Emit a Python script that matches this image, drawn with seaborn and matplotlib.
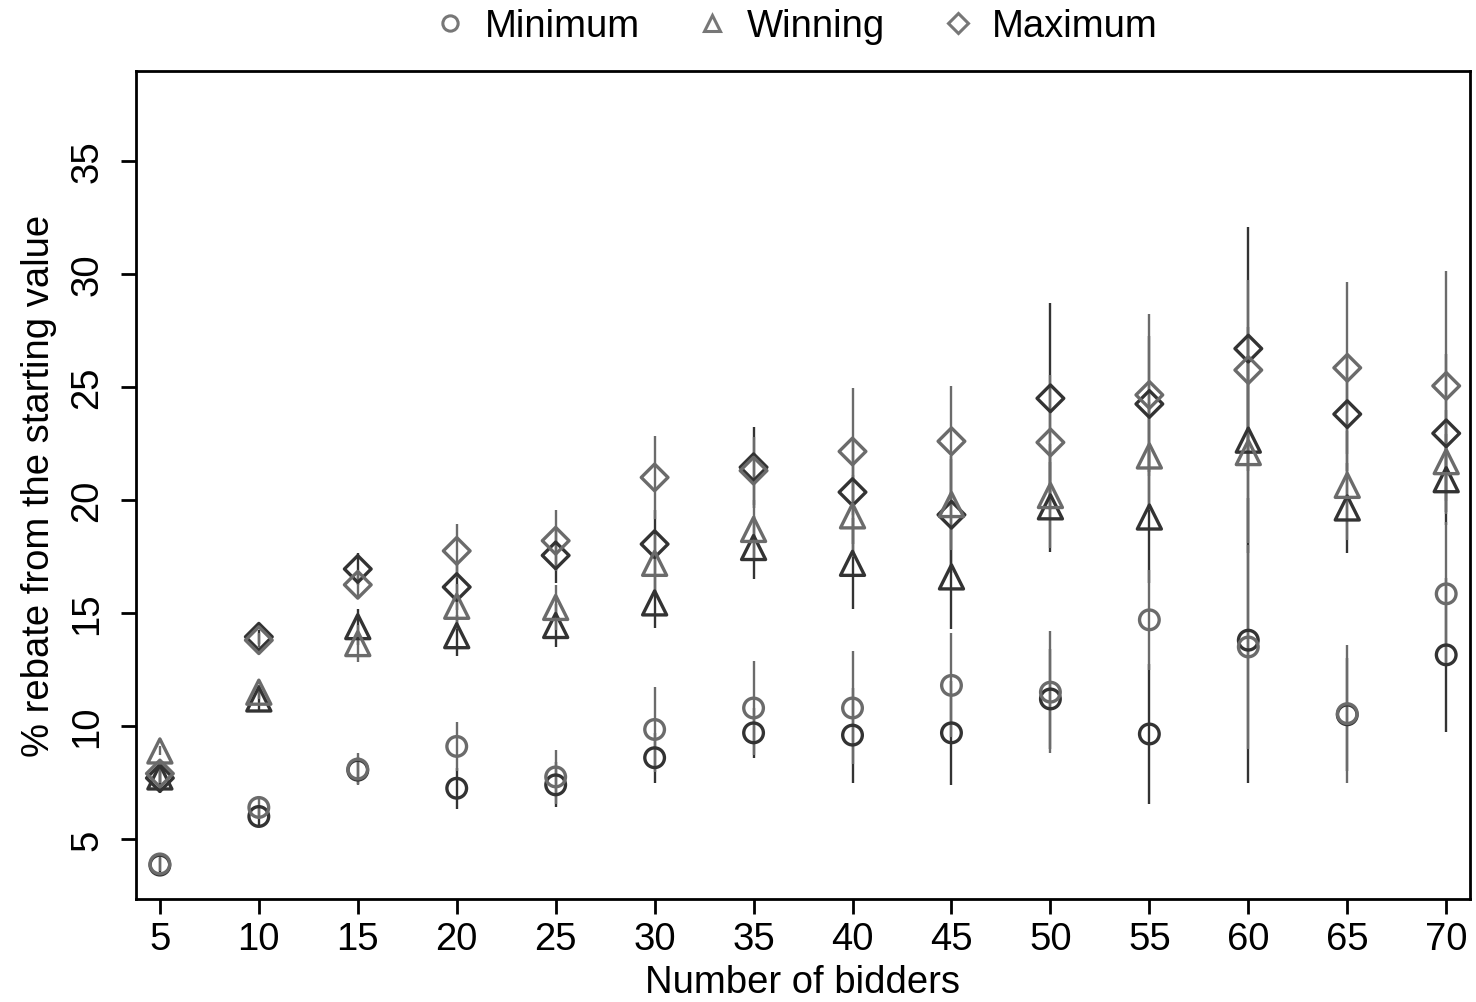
import matplotlib
matplotlib.use('Agg')
import matplotlib.pyplot as plt
from matplotlib.lines import Line2D
import seaborn as sns

# Values
bidders = [5, 10, 15, 20, 25, 30, 35, 40, 45, 50, 55, 60, 65, 70]

dark_min = [3.85, 6.0, 8.05, 7.25, 7.4, 8.6, 9.7, 9.6, 9.7, 11.2, 9.65, 13.8, 10.5, 13.15]
dark_win = [7.75, 11.2, 14.4, 14.0, 14.45, 15.45, 17.9, 17.2, 16.6, 19.7, 19.25, 22.65, 19.65, 20.9]
dark_max = [7.7, 13.95, 16.95, 16.15, 17.55, 18.05, 21.45, 20.35, 19.35, 24.5, 24.25, 26.7, 23.8, 22.95]

light_min = [3.9, 6.4, 8.1, 9.1, 7.75, 9.85, 10.8, 10.8, 11.8, 11.5, 14.7, 13.5, 10.55, 15.85]
light_win = [8.9, 11.5, 13.65, 15.3, 15.25, 17.2, 18.7, 19.3, 19.8, 20.2, 21.95, 22.1, 20.65, 21.7]
light_max = [7.9, 13.8, 16.25, 17.75, 18.2, 21.0, 21.3, 22.15, 22.6, 22.55, 24.65, 25.75, 25.85, 25.05]

# half-widths of the vertical error bars
dark_min_err = [0.3, 0.45, 0.6, 0.9, 1.0, 1.1, 1.1, 2.1, 2.3, 2.2, 3.1, 6.3, 2.5, 3.4]
dark_win_err = [0.7, 0.5, 0.8, 0.9, 0.95, 1.1, 1.4, 2.0, 2.3, 2.0, 2.9, 5.0, 2.0, 2.0]
dark_max_err = [0.4, 0.3, 0.7, 1.0, 1.2, 1.5, 1.8, 2.3, 2.6, 4.2, 3.0, 5.4, 2.5, 3.5]
light_min_err = [0.3, 0.5, 0.7, 1.1, 1.2, 1.9, 2.1, 2.5, 2.3, 2.7, 2.2, 4.5, 3.05, 3.2]
light_win_err = [0.2, 0.3, 0.8, 1.0, 1.0, 1.3, 1.3, 1.8, 2.0, 2.3, 2.4, 4.0, 2.4, 2.3]
light_max_err = [0.4, 0.3, 0.5, 1.2, 1.35, 1.85, 1.5, 2.8, 2.45, 3.0, 3.6, 4.0, 3.8, 5.1]

stat_names = ['Minimum', 'Winning', 'Maximum']
dark_color = '#333333'
light_color = '#6b6b6b'

sns.set_theme(style='ticks')
plt.rcParams['font.family'] = ['Liberation Sans', 'DejaVu Sans']
plt.rcParams['text.color'] = 'black'
plt.rcParams['axes.labelcolor'] = 'black'
plt.rcParams['xtick.color'] = 'black'
plt.rcParams['ytick.color'] = 'black'

fig = plt.figure(figsize=(14.76, 10.03), dpi=100)
ax = fig.add_axes([0.0921, 0.1027, 0.9038, 0.8255])

markers = {'Minimum': 'o', 'Winning': '^', 'Maximum': 'D'}
sizes = {'Minimum': 200, 'Winning': 300, 'Maximum': 185}

groups = [
    (dark_color, [dark_min, dark_win, dark_max], [dark_min_err, dark_win_err, dark_max_err]),
    (light_color, [light_min, light_win, light_max], [light_min_err, light_win_err, light_max_err]),
]

for color, series, errs in groups:
    for name, vals, err in zip(stat_names, series, errs):
        lo = [v - e for v, e in zip(vals, err)]
        hi = [v + e for v, e in zip(vals, err)]
        ax.vlines(bidders, lo, hi, colors=color, linewidth=1.7, zorder=2)
        sns.scatterplot(x=bidders, y=vals, marker=markers[name], s=sizes[name],
                        facecolor='none', edgecolor=color, color=color,
                        linewidth=2.4, ax=ax, zorder=3, legend=False)

ax.set_xlim(3.79, 71.2)
ax.set_ylim(2.35, 38.98)
ax.set_xticks(bidders)
ax.set_yticks([5, 10, 15, 20, 25, 30, 35])
ax.tick_params(axis='both', labelsize=27.5, length=11, width=2, direction='out')
ax.tick_params(axis='x', pad=5)
ax.tick_params(axis='y', pad=11)
for lab in ax.get_yticklabels():
    lab.set_rotation(90)
    lab.set_va('center')
for sp in ax.spines.values():
    sp.set_visible(True)
    sp.set_linewidth(2)
    sp.set_color('black')

ax.set_xlabel('Number of bidders', fontsize=27.5, labelpad=5)
ax.set_ylabel('% rebate from the starting value', fontsize=27.5, labelpad=9)

handles = [Line2D([], [], linestyle='none', marker=markers[n], markersize=11,
                  markerfacecolor='none', markeredgecolor='#777777', markeredgewidth=2.2)
           for n in stat_names]
handles[1].set_markersize(12)
handles[2].set_markersize(10)
fig.legend(handles, stat_names, loc='upper center', bbox_to_anchor=(0.537, 1.025), ncol=3,
           frameon=False, fontsize=27.5, handletextpad=0.3, columnspacing=1.3, handlelength=1.2)

fig.savefig('out.png', dpi=100)
